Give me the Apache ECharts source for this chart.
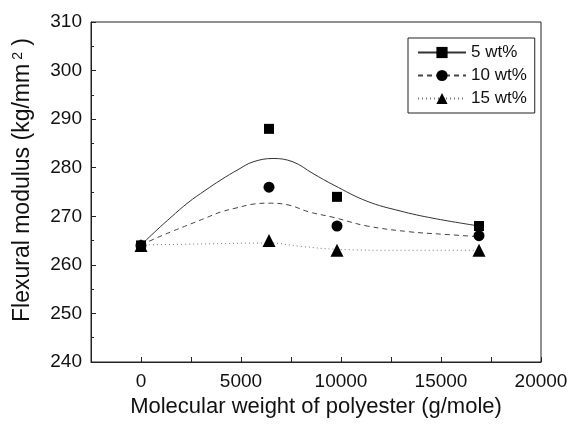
<!DOCTYPE html>
<html>
<head>
<meta charset="utf-8">
<script src="https://cdn.jsdelivr.net/npm/echarts@6/dist/echarts.min.js"></script>
<style>
  html, body { margin: 0; padding: 0; background: #fff; }
  #chart { width: 572px; height: 426px; }
</style>
</head>
<body>
<div id="chart"></div>
<script>
  // measured points
  var molWeight = [0, 6400, 9800, 16900]
  var mod5 = [264, 288, 274, 268]
  var mod10 = [264, 276, 268, 266]
  var mod15 = [264, 265, 263, 263]

  // fitted curves
  var curve5X = [0, 800, 1500, 2350, 3200, 4000, 4850, 5600, 6600, 7600, 8600, 9650, 11300, 12950, 14600, 16900]
  var curve5Y = [264.1, 267.2, 269.8, 272.8, 275.3, 277.5, 279.6, 281.2, 281.9, 281.2, 278.8, 276.4, 273.1, 271.1, 269.6, 268.0]
  var curve10X = [0, 700, 1500, 2350, 3200, 4000, 4750, 5600, 6400, 7400, 8400, 9600, 11300, 13450, 15100, 16900]
  var curve10Y = [264.1, 265.4, 266.8, 268.2, 269.6, 270.9, 271.7, 272.5, 272.7, 272.3, 270.9, 269.8, 268.0, 266.8, 266.3, 265.8]
  var curve15X = [0, 3000, 6400, 8000, 9800, 13000, 16900]
  var curve15Y = [264.1, 264.3, 264.5, 263.8, 263.2, 263.0, 263.0]

  var names = ['5 wt%', '10 wt%', '15 wt%']
  var font = 'Liberation Sans'

  function pairs(xs, ys) {
    return xs.map(function(x, i) { return [x, ys[i]] })
  }

  function curve(name, symbol, xs, ys, type, color) {
    return {
      name: name,
      type: 'line',
      smooth: 0.4,
      symbol: symbol,
      showSymbol: false,
      silent: true,
      itemStyle: { color: '#000' },
      lineStyle: { color: color, width: 1, type: type },
      data: pairs(xs, ys),
      z: 2
    }
  }

  function points(name, ys, symbol, size) {
    return {
      name: name,
      type: 'scatter',
      symbol: symbol,
      symbolSize: size,
      itemStyle: { color: '#000', opacity: 1 },
      data: pairs(molWeight, ys),
      z: 3
    }
  }

  var chart = echarts.init(document.getElementById('chart'))
  chart.setOption({
    animation: false,
    backgroundColor: '#fff',
    textStyle: { fontFamily: font, color: '#111' },
    grid: {
      left: 91, right: 31, top: 22, bottom: 64,
      show: true, borderColor: '#222', borderWidth: 1
    },
    legend: {
      data: names,
      orient: 'vertical',
      left: 408,
      top: 38,
      padding: [6, 8, 6, 9],
      itemWidth: 48,
      itemHeight: 14,
      itemGap: 6,
      borderColor: '#222',
      borderWidth: 1,
      textStyle: { fontFamily: font, fontSize: 17, color: '#111' }
    },
    xAxis: {
      type: 'value',
      min: -2500,
      max: 20000,
      interval: 2500,
      name: 'Molecular weight of polyester (g/mole)',
      nameLocation: 'middle',
      nameGap: 25,
      nameTextStyle: { fontFamily: font, fontSize: 22, color: '#111' },
      axisLine: { lineStyle: { color: '#222', width: 1 } },
      axisTick: { inside: true, length: 5, lineStyle: { color: '#222' } },
      axisLabel: {
        fontFamily: font, fontSize: 19, color: '#111', margin: 10,
        formatter: function(v) { return v >= 0 && v % 5000 === 0 ? String(v) : '' }
      },
      splitLine: { show: false }
    },
    yAxis: {
      type: 'value',
      min: 240,
      max: 310,
      interval: 10,
      name: 'Flexural modulus (kg/mm{sup|2} )',
      nameLocation: 'middle',
      nameGap: 57,
      nameTextStyle: {
        fontFamily: font, fontSize: 23, color: '#111', padding: [0, 0, 0, 24],
        rich: { sup: { fontFamily: font, fontSize: 14, color: '#111', verticalAlign: 'top', padding: [0, 0, 9, 4] } }
      },
      axisLine: { show: true, onZero: false, lineStyle: { color: '#222', width: 1 } },
      axisTick: { inside: true, length: 5, lineStyle: { color: '#222' } },
      minorTick: { show: true, splitNumber: 2, length: 3, lineStyle: { color: '#222' } },
      axisLabel: { fontFamily: font, fontSize: 19, color: '#111', margin: 9 },
      splitLine: { show: false }
    },
    series: [
      curve('5 wt%', 'rect', curve5X, curve5Y, 'solid', '#333'),
      curve('10 wt%', 'circle', curve10X, curve10Y, [5, 4], '#444'),
      curve('15 wt%', 'triangle', curve15X, curve15Y, [1, 3], '#777'),
      points('5 wt%', mod5, 'rect', 10),
      points('10 wt%', mod10, 'circle', 11),
      points('15 wt%', mod15, 'triangle', 13)
    ]
  })
</script>
</body>
</html>
